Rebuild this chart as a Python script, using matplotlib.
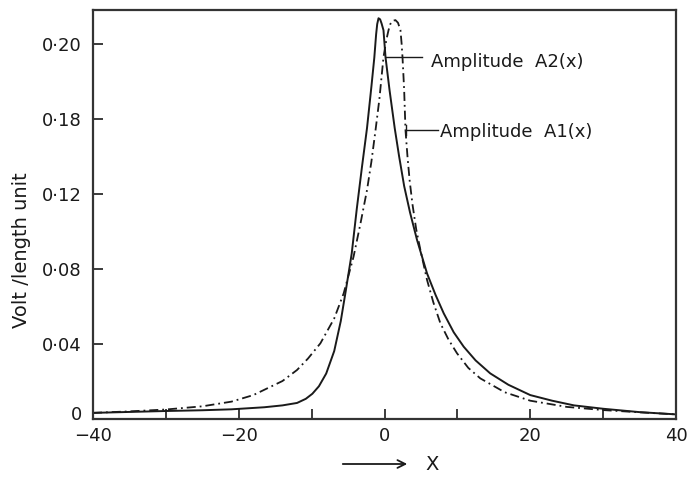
import matplotlib
matplotlib.use("Agg")
import matplotlib.pyplot as plt
from matplotlib.transforms import ScaledTranslation

# ---- data ----
a2_x = [-40, -35, -30, -25, -21, -16.5, -14, -12, -10.8, -9.9, -9.0, -8.0, -6.9, -6.0,
        -5.3, -4.5, -3.8, -3.1, -2.4, -1.8, -1.4, -1.15, -1.0, -0.82, -0.6, -0.4, -0.14,
        0.14, 0.7, 1.4, 2.0, 2.7, 3.5, 4.47, 5.84, 7.0, 8.13, 9.5, 10.87, 12.5, 14.5, 17,
        20, 23, 26, 30, 35, 40]
a2_y = [0.0030, 0.0035, 0.0040, 0.0044, 0.0049, 0.0060, 0.0070, 0.0083, 0.0105, 0.0132,
        0.0172, 0.0240, 0.0360, 0.0520, 0.0685, 0.0880, 0.1120, 0.1340, 0.1550, 0.1770,
        0.1925, 0.2050, 0.2105, 0.2136, 0.2130, 0.2108, 0.2072, 0.1928, 0.1750, 0.1550,
        0.1400, 0.1240, 0.1100, 0.0952, 0.0774, 0.0660, 0.0561, 0.0460, 0.0383, 0.0310,
        0.0241, 0.0180, 0.0125, 0.0095, 0.0070, 0.0052, 0.0034, 0.0022]

a1_x = [-40, -35, -30, -25, -21, -18, -15.6, -14, -12, -10.5, -8.8, -6.9, -5.6, -4.25,
        -3.3, -2.4, -1.8, -1.23, -0.7, -0.14, 0.25, 0.55, 0.8, 1.1, 1.5, 1.85, 2.19,
        2.35, 2.47, 2.6, 2.7, 2.88, 3.15, 3.45, 3.85, 4.35, 4.93, 5.84, 6.7, 7.67, 8.8,
        9.95, 11.5, 13.15, 16.5, 20, 25, 30, 35, 40]
a1_y = [0.0030, 0.0038, 0.0048, 0.0065, 0.0090, 0.0125, 0.0170, 0.0200, 0.0259, 0.0320,
        0.0401, 0.0534, 0.0668, 0.0863, 0.1040, 0.1219, 0.1370, 0.1539, 0.1705, 0.1928,
        0.2020, 0.2072, 0.2105, 0.2122, 0.2126, 0.2112, 0.2072, 0.2000, 0.1928, 0.1830,
        0.1750, 0.1539, 0.1400, 0.1270, 0.1140, 0.1010, 0.0899, 0.0739, 0.0620, 0.0508,
        0.0420, 0.0348, 0.0270, 0.0214, 0.0140, 0.0095, 0.0062, 0.0045, 0.0033, 0.0022]

x_ticks = [-40, -30, -20, -10, 0, 10, 20, 30, 40]
x_tick_labels = ["\u221240", "", "\u221220", "", "0", "", "20", "", "40"]
y_ticks = [0, 0.04, 0.08, 0.12, 0.16, 0.20]
y_tick_labels = ["0", "0\u00b704", "0\u00b708", "0\u00b712", "0\u00b718", "0\u00b720"]

label_a2 = "Amplitude  A2(x)"
label_a1 = "Amplitude  A1(x)"
y_label = "Volt /length unit"
x_label = "X"

ink = "#1a1a1a"
plt.rcParams["font.family"] = ["DejaVu Sans"]

fig = plt.figure(figsize=(6.89, 4.80), dpi=100)
ax = fig.add_axes([93 / 689, 1 - 418.5 / 480, (676 - 93) / 689, (418.5 - 10) / 480])

ax.plot(a2_x, a2_y, color=ink, lw=1.4, solid_joinstyle="round")
ax.plot(a1_x, a1_y, color=ink, lw=1.3, linestyle=(0, (5, 2.2, 1, 2.2)))

ax.set_xlim(-40, 40)
ax.set_ylim(0, 0.218)
ax.set_xticks(x_ticks)
ax.set_xticklabels(x_tick_labels)
ax.set_yticks(y_ticks)
ax.set_yticklabels(y_tick_labels)
ax.tick_params(direction="in", length=7, width=1.2, colors=ink, labelsize=13, pad=6)
ax.tick_params(axis="y", pad=8)
for sp in ax.spines.values():
    sp.set_linewidth(1.6)
    sp.set_color("#333333")

# shift the "0" y label slightly up, as in the reference
for lab in ax.get_yticklabels():
    if lab.get_text() == "0":
        lab.set_transform(lab.get_transform() + ScaledTranslation(0, 6 / 100, fig.dpi_scale_trans))

# annotations with leader lines
ax.plot([0.14, 5.2], [0.1928, 0.1928], color=ink, lw=1.0)
ax.text(6.4, 0.1905, label_a2, fontsize=13, color=ink, va="center", ha="left")
ax.plot([2.95, 7.4], [0.1539, 0.1539], color=ink, lw=1.0)
ax.plot([2.95, 2.95], [0.1515, 0.1565], color=ink, lw=1.0)
ax.text(7.6, 0.1530, label_a1, fontsize=13, color=ink, va="center", ha="left")

# y label
fig.text(22 / 689, 1 - 250 / 480, y_label, rotation=90, fontsize=14, color=ink,
         ha="center", va="center")

# x label with arrow
fig.patches.append(matplotlib.patches.FancyArrowPatch(
    (340 / 689, 1 - 464 / 480), (410 / 689, 1 - 464 / 480), transform=fig.transFigure,
    arrowstyle="->", mutation_scale=14, color=ink, lw=1.3))
fig.text(432 / 689, 1 - 465 / 480, x_label, fontsize=14, color=ink, ha="center", va="center")

fig.savefig("out.png", dpi=100, facecolor="white")
